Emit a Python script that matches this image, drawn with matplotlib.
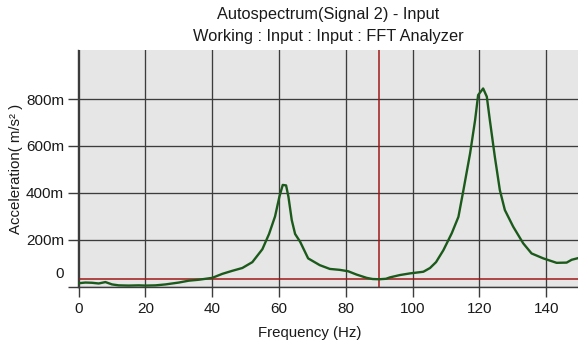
import matplotlib
matplotlib.use("Agg")
import matplotlib.pyplot as plt
import matplotlib.transforms as mtransforms

plt.rcParams['font.family'] = ['Liberation Sans', 'DejaVu Sans']

# Autospectrum of signal 2, frequency in Hz, acceleration in m/s^2
freq_hz = [0, 2, 4, 6, 8, 10, 12, 15, 18, 20, 23, 26, 28, 30, 33, 36, 40, 43, 46,
           49, 52, 55, 57, 58.8, 60.1, 61.1, 62.1, 62.8, 63.8, 64.8, 66.3, 68.7,
           72.2, 75.2, 78.2, 80.7, 83.2, 86.2, 88, 90, 92, 93.2, 96.2, 99.2, 103.2,
           105.2, 107, 109.2, 111.7, 113.7, 115.2, 117.2, 118.7, 119.6, 121.1,
           122.2, 123.1, 124.6, 126.1, 127.6, 130.1, 133.1, 135.6, 139.1, 143.1,
           146.1, 147.6, 149.5]
accel = [0.015, 0.018, 0.017, 0.014, 0.020, 0.010, 0.006, 0.005, 0.006, 0.005,
         0.006, 0.010, 0.014, 0.018, 0.026, 0.030, 0.038, 0.055, 0.068, 0.080,
         0.105, 0.160, 0.225, 0.300, 0.384, 0.434, 0.432, 0.384, 0.284, 0.225,
         0.192, 0.121, 0.092, 0.076, 0.072, 0.066, 0.052, 0.038, 0.033, 0.032,
         0.034, 0.040, 0.050, 0.057, 0.064, 0.080, 0.105, 0.156, 0.228, 0.298,
         0.412, 0.569, 0.711, 0.817, 0.845, 0.810, 0.711, 0.554, 0.412, 0.327,
         0.256, 0.185, 0.142, 0.121, 0.102, 0.103, 0.115, 0.122]

cursor_freq = 90
cursor_level = 0.032

x_ticks = [0, 20, 40, 60, 80, 100, 120, 140]
y_ticks = [0, 0.2, 0.4, 0.6, 0.8]
y_tick_labels = ['0', '200m', '400m', '600m', '800m']

title_1 = 'Autospectrum(Signal 2) - Input'
title_2 = 'Working : Input : Input : FFT Analyzer'

fig = plt.figure(figsize=(5.78, 3.45), dpi=100)
ax = fig.add_axes([78 / 578, 1 - 287 / 345, 500 / 578, 237 / 345])
ax.set_facecolor('#e6e6e6')

ax.set_xlim(-0.2, 149.5)
ax.set_ylim(-0.001, 1.009)

ax.grid(True, color='#3c3c3c', linewidth=0.95)
ax.set_axisbelow(True)

ax.axvline(cursor_freq, color='#a01818', linewidth=1.1, zorder=2)
ax.axhline(cursor_level, color='#a01818', linewidth=1.1, zorder=2)

ax.plot(freq_hz, accel, color='#1c5a1c', linewidth=1.7, zorder=3)

ax.set_xticks(x_ticks)
ax.set_xticklabels([str(t) for t in x_ticks])
ax.set_yticks(y_ticks)
ax.set_yticklabels(y_tick_labels)

ax.tick_params(axis='both', direction='out', length=7, width=1.0,
               color='#3c3c3c', labelsize=11, labelcolor='#1a1a1a')
ax.tick_params(axis='x', pad=3.5)
ax.tick_params(axis='y', pad=3)

# lift the zero label above its tick
zero_label = ax.get_yticklabels()[0]
zero_label.set_transform(zero_label.get_transform() +
                         mtransforms.ScaledTranslation(0, 10 / 72, fig.dpi_scale_trans))

for side in ('top', 'right'):
    ax.spines[side].set_visible(False)
for side in ('left', 'bottom'):
    ax.spines[side].set_color('#3c3c3c')
    ax.spines[side].set_linewidth(1.0)

ax.set_xlabel('Frequency (Hz)', fontsize=10.8, color='#1a1a1a')
ax.xaxis.set_label_coords(0.464, -0.194)
ax.xaxis.label.set_va('center')
ax.set_ylabel('Acceleration( m/s² )', fontsize=10.8, color='#1a1a1a')
ax.yaxis.set_label_coords(-0.124, 0.5)
ax.yaxis.label.set_va('center')

fig.text(328 / 578, 1 - 15 / 345, title_1, ha='center', va='center',
         fontsize=11.8, color='#1a1a1a')
fig.text(328 / 578, 1 - 37 / 345, title_2, ha='center', va='center',
         fontsize=11.8, color='#1a1a1a')

fig.savefig('out.png', dpi=100, facecolor='white')
